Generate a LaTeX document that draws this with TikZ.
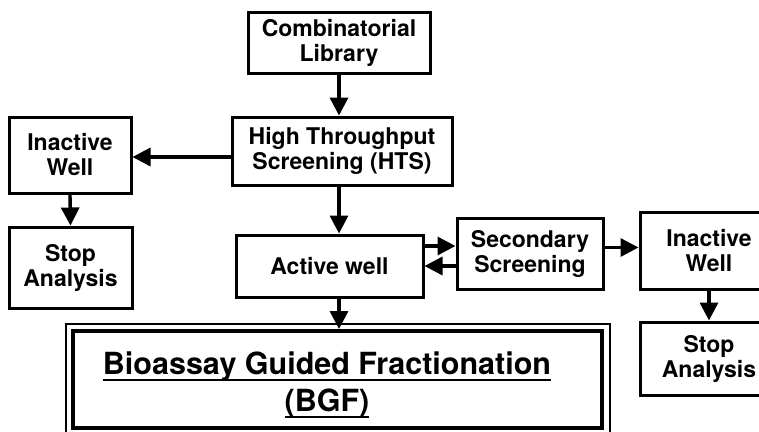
\documentclass[tikz,border=0pt]{standalone}
\usepackage{fontspec}
\setmainfont{TeX Gyre Heros}
\usepackage{tikz}
\usetikzlibrary{arrows.meta, calc}

\newcommand{\ulthick}[1]{\setbox0=\hbox{#1}\rlap{\copy0}\rule[-6.2pt]{\wd0}{2.4pt}}

\tikzset{
  box/.style={draw=black, line width=3pt, align=center, inner sep=0pt,
    font=\bfseries\fontsize{23}{25}\selectfont},
  arr/.style={line width=3.4pt, -{Triangle[length=18pt,width=18pt]}}
}

\begin{document}
\begin{tikzpicture}[x=1pt,y=-1pt]
    \useasboundingbox (0,0) rectangle (759,431);
    \clip (0,0) rectangle (759,431);

    % boxes
    \node[box, minimum width=182pt, minimum height=61pt] (lib) at (339,42.5) {Combinatorial\\Library};
    \node[box, minimum width=220pt, minimum height=68pt] (hts) at (342,151) {High Throughput\\Screening (HTS)};
    \node[box, minimum width=122pt, minimum height=76pt] (inl) at (70,155) {Inactive\\Well};
    \node[box, minimum width=123pt, minimum height=81pt] (stopl) at (70.5,267.5) {Stop\\Analysis};
    \node[box, minimum width=187pt, minimum height=62pt] (act) at (329.5,266) {Active well};
    \node[box, minimum width=146pt, minimum height=71pt] (sec) at (530,253.5) {Secondary\\Screening};
    \node[box, minimum width=138pt, minimum height=77pt] (inr) at (709,250.5) {Inactive\\Well};
    \node[box, minimum width=138pt, minimum height=73pt] (stopr) at (709,358.5) {Stop\\Analysis};

    % BGF box with double frame
    \node[draw=black, line width=4pt, minimum width=529pt, minimum height=97pt, inner sep=0pt] (bgf) at (337.5,379.5) {};
    \draw[line width=1.6pt] ([shift={(-5pt,5pt)}]bgf.north west) rectangle ([shift={(6pt,-4pt)}]bgf.south east);
    \node[align=center, inner sep=0pt, font=\bfseries\fontsize{30.5}{37}\selectfont] (bgftext) at (327,385)
      {\ulthick{Bioassay Guided Fractionation}\\\ulthick{(BGF)}};

    % connectors
    \draw[arr] (lib.south) -- (lib.south |- hts.north);
    \draw[arr] ([yshift=-6pt]hts.west) -- ([yshift=-6pt]hts.west -| inl.east);
    \draw[arr] (inl.south) -- (stopl.north);
    \draw[arr] (lib.south |- hts.south) -- (lib.south |- act.north);
    \draw[arr] ([yshift=20pt]act.east) -- ([yshift=20pt]act.east -| sec.west);
    \draw[arr] (act.east -| sec.west) -- (act.east);
    \draw[arr] ([yshift=6pt]sec.east) -- ([yshift=6pt]sec.east -| inr.west);
    \draw[arr] (inr.south) -- (stopr.north);
    \draw[arr] (lib.south |- act.south) -- (lib.south |- bgf.north);
\end{tikzpicture}
\end{document}
